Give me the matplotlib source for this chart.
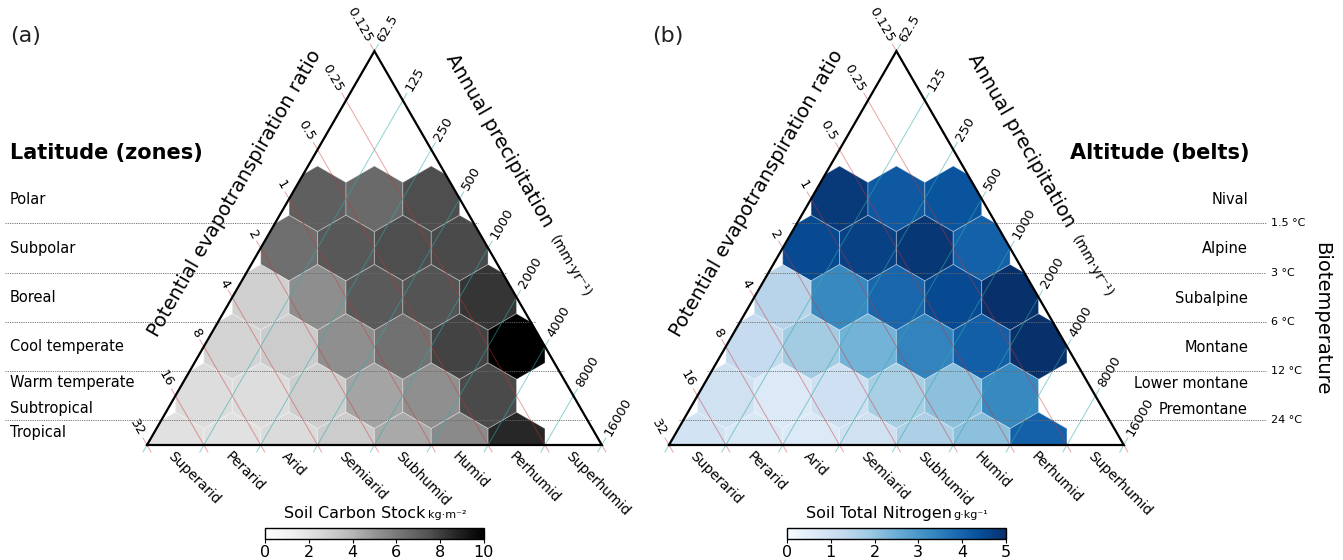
import numpy as np
import matplotlib
matplotlib.use('Agg')
import matplotlib.pyplot as plt
from matplotlib.patches import RegularPolygon, Polygon
from matplotlib.collections import PatchCollection
from matplotlib.colors import Normalize
from matplotlib.textpath import TextPath
from matplotlib.font_manager import FontProperties

plt.rcParams['font.family'] = ['DejaVu Sans']
nan = np.nan

# ---------------- data ----------------
pet_ticks = ['0.125', '0.25', '0.5', '1', '2', '4', '8', '16', '32']
precip_ticks = ['62.5', '125', '250', '500', '1000', '2000', '4000', '8000', '16000']
humidity = ['Superarid', 'Perarid', 'Arid', 'Semiarid', 'Subhumid', 'Humid',
            'Perhumid', 'Superhumid']
latitude_zones = ['Polar', 'Subpolar', 'Boreal', 'Cool temperate',
                  'Warm temperate', 'Subtropical', 'Tropical']
altitude_belts = ['Nival', 'Alpine', 'Subalpine', 'Montane',
                  'Lower montane', 'Premontane']
biotemp_ticks = ['1.5 °C', '3 °C', '6 °C', '12 °C', '24 °C']

# Soil carbon stock (kg m-2), rows from Polar (top) to Tropical (bottom)
carbon_polar = [7.0, 6.6, 7.6]
carbon_subpolar = [6.4, 7.25, 7.6, 7.7]
carbon_boreal = [2.9, 5.3, 7.2, 7.4, 8.3]
carbon_cool_temperate = [2.7, 3.1, 5.25, 6.3, 7.9, 10.0]
carbon_warm_temperate = [2.3, 2.3, 3.0, 4.55, 5.25, 7.7, nan]
carbon_tropical = [2.1, 2.1, 2.4, 3.1, 4.4, 5.4, 8.7, nan]

# Soil total nitrogen (g kg-1), rows from Nival (top) to Premontane (bottom)
nitrogen_nival = [4.8, 4.2, 4.3]
nitrogen_alpine = [4.5, 4.65, 4.85, 4.05]
nitrogen_subalpine = [1.5, 3.3, 3.95, 4.5, 5.0]
nitrogen_montane = [1.25, 1.8, 2.4, 3.4, 4.1, 5.0]
nitrogen_lower_montane = [1.0, 0.7, 1.05, 1.7, 2.1, 3.3, nan]
nitrogen_premontane = [0.95, 0.75, 0.7, 1.0, 1.65, 2.1, 4.05, nan]

carbon_rows = [carbon_polar, carbon_subpolar, carbon_boreal,
               carbon_cool_temperate, carbon_warm_temperate, carbon_tropical]
nitrogen_rows = [nitrogen_nival, nitrogen_alpine, nitrogen_subalpine,
                 nitrogen_montane, nitrogen_lower_montane, nitrogen_premontane]

# ---------------- layout ----------------
FW, FH, DPI = 1343, 560, 100
U = 56.85            # pixels per triangle unit
S = 8                # triangle side (log2 steps)
H = S * np.sqrt(3) / 2
R3 = np.sqrt(3)

fig = plt.figure(figsize=(FW / DPI, FH / DPI), dpi=DPI)

RED = '#cc3333'
CYAN = '#33aaaa'
DOT = '#6a6a6a'


def make_axes(x0, x1, bl):
    ax = fig.add_axes([x0 / FW, 0, (x1 - x0) / FW, 1])
    ax.set_xlim((x0 - bl[0]) / U, (x1 - bl[0]) / U)
    ax.set_ylim((bl[1] - FH) / U, bl[1] / U)
    ax.axis('off')
    return ax


def py(bl, p):
    return (bl[1] - p) / U


def px(bl, p):
    return (p - bl[0]) / U


def draw_triangle(ax, rows, cmap, norm):
    top = np.array([S / 2, H])
    BL = np.array([0.0, 0.0])
    BR = np.array([float(S), 0.0])
    clip = Polygon([BL, BR, top], closed=True, transform=ax.transData,
                   facecolor='none', edgecolor='none')
    ax.add_patch(clip)

    patches, vals = [], []
    n = len(rows)
    for idx, row in enumerate(rows):
        k = n - 1 - idx
        for j, v in enumerate(row):
            if np.isnan(v):
                continue
            cx = k / 2 + 0.5 + j
            cy = k * R3 / 2
            patches.append(RegularPolygon((cx, cy), 6, radius=1 / R3))
            vals.append(v)
    pc = PatchCollection(patches, cmap=cmap, norm=norm,
                         edgecolor=(1, 1, 1, 0.3), linewidth=0.7, zorder=1)
    pc.set_array(np.array(vals))
    ax.add_collection(pc)
    pc.set_clip_path(clip)

    ext = 0.15
    d_red = (BR - top) / S
    d_cy = (BL - top) / S
    for i in range(9):
        p0 = top + i * (BL - top) / S
        p1 = p0 + (S - i) * d_red
        a = p0 - ext * d_red
        b = p1 + ext * d_red
        ax.plot([a[0], b[0]], [a[1], b[1]], color=RED, lw=0.7, alpha=0.45,
                zorder=2, solid_capstyle='butt')
        q = p0 - 0.2 * d_red
        ax.text(q[0], q[1], pet_ticks[i], rotation=-60, rotation_mode='anchor',
                ha='right', va='center', fontsize=9.5)
    for j in range(9):
        p0 = top + j * (BR - top) / S
        p1 = p0 + (S - j) * d_cy
        a = p0 - ext * d_cy
        b = p1 + ext * d_cy
        ax.plot([a[0], b[0]], [a[1], b[1]], color=CYAN, lw=0.7, alpha=0.55,
                zorder=2, solid_capstyle='butt')
        q = p0 - 0.2 * d_cy
        ax.text(q[0], q[1], precip_ticks[j], rotation=60, rotation_mode='anchor',
                ha='left', va='center', fontsize=9.5)

    for m, name in enumerate(humidity):
        ax.text(m + 0.5, -0.08, name, rotation=-45, rotation_mode='anchor',
                ha='left', va='top', fontsize=10)

    ax.plot([BL[0], BR[0], top[0], BL[0]], [BL[1], BR[1], top[1], BL[1]],
            color='black', lw=1.6, zorder=5, solid_joinstyle='miter')

    # axis titles
    el = np.array([0.5, R3 / 2])
    nl = np.array([-R3 / 2, 0.5])
    c = BL + 4.61 * el + 0.875 * nl
    ax.text(c[0], c[1], 'Potential evapotranspiration ratio', rotation=60,
            rotation_mode='anchor', ha='center', va='center', fontsize=14)
    er = np.array([-0.5, R3 / 2])
    nr = np.array([R3 / 2, 0.5])
    c = BR + 5.53 * er + 1.02 * nr
    ax.text(c[0], c[1], 'Annual precipitation', rotation=-60,
            rotation_mode='anchor', ha='center', va='baseline', fontsize=14)
    c = BR + 3.0 * er + 1.02 * nr
    ax.text(c[0], c[1], '(mm·yr⁻¹)', rotation=-60,
            rotation_mode='anchor', ha='center', va='baseline', fontsize=10)


line_levels = [(k + 0.5) * R3 / 2 for k in range(5)][::-1]  # 1.5 ... 24 °C (top to bottom)

# ---------------- panel (a) ----------------
BLa = (147, 445)
axa = make_axes(0, 660, BLa)
norm_c = Normalize(0, 10)
draw_triangle(axa, carbon_rows, plt.get_cmap('Greys'), norm_c)
for yl in line_levels:
    axa.plot([px(BLa, 5), S - yl / R3 + 0.08], [yl, yl], color=DOT,
             lw=0.6, ls=(0, (1.5, 1.2)), zorder=3)
for name, yp in zip(latitude_zones, [200, 249, 298, 347, 383, 408, 433]):
    axa.text(px(BLa, 10), py(BLa, yp), name, ha='left', va='center',
             fontsize=10.5)
axa.text(px(BLa, 10), py(BLa, 153), 'Latitude (zones)', ha='left',
         va='center', fontsize=15, fontweight='bold')

# ---------------- panel (b) ----------------
BLb = (669, 445)
axb = make_axes(660, FW, BLb)
norm_n = Normalize(0, 5)
draw_triangle(axb, nitrogen_rows, plt.get_cmap('Blues'), norm_n)
for yl, lab in zip(line_levels, biotemp_ticks):
    axb.plot([yl / R3 - 0.08, px(BLb, 1266)], [yl, yl], color=DOT,
             lw=0.6, ls=(0, (1.5, 1.2)), zorder=3)
    axb.text(px(BLb, 1271), yl, lab, ha='left', va='center', fontsize=8)
for name, yp in zip(altitude_belts, [200, 249, 299, 347, 384, 409]):
    axb.text(px(BLb, 1248), py(BLb, yp), name, ha='right', va='center',
             fontsize=10.5)
axb.text(px(BLb, 1250), py(BLb, 153), 'Altitude (belts)', ha='right',
         va='center', fontsize=15, fontweight='bold')
axb.text(px(BLb, 1322), py(BLb, 319), 'Biotemperature', rotation=270,
         ha='center', va='center', fontsize=14)

# ---------------- panel letters ----------------
fig.text(10 / FW, 1 - 36 / FH, '(a)', fontsize=16, ha='left', va='center',
         color='#222222')
fig.text(652 / FW, 1 - 36 / FH, '(b)', fontsize=16, ha='left', va='center',
         color='#222222')


# ---------------- colorbars ----------------
def text_width_px(s, size):
    fp = FontProperties(family='DejaVu Sans', size=size)
    return TextPath((0, 0), s, prop=fp).get_extents().width * DPI / 72


def colorbar(cx, cmap, norm, ticks, main, unit):
    w = 219
    cax = fig.add_axes([(cx - w / 2) / FW, (FH - 539) / FH, w / FW, 11 / FH])
    sm = plt.cm.ScalarMappable(norm=norm, cmap=cmap)
    cb = fig.colorbar(sm, cax=cax, orientation='horizontal', ticks=ticks)
    cb.outline.set_linewidth(1.0)
    cax.tick_params(labelsize=11.5, length=3, width=0.8, pad=1)
    w1 = text_width_px(main, 11.5)
    w2 = text_width_px(unit, 8)
    gap = 5
    left = cx - (w1 + gap + w2) / 2
    fig.text(left / FW, (FH - 518) / FH, main, fontsize=11.5, ha='left',
             va='baseline')
    fig.text((left + w1 + gap) / FW, (FH - 518) / FH, unit, fontsize=8,
             ha='left', va='baseline')


colorbar(BLa[0] + 4 * U, plt.get_cmap('Greys'), norm_c, [0, 2, 4, 6, 8, 10],
         'Soil Carbon Stock', 'kg·m⁻²')
colorbar(BLb[0] + 4 * U, plt.get_cmap('Blues'), norm_n, [0, 1, 2, 3, 4, 5],
         'Soil Total Nitrogen', 'g·kg⁻¹')

fig.savefig('out.png', dpi=DPI)
